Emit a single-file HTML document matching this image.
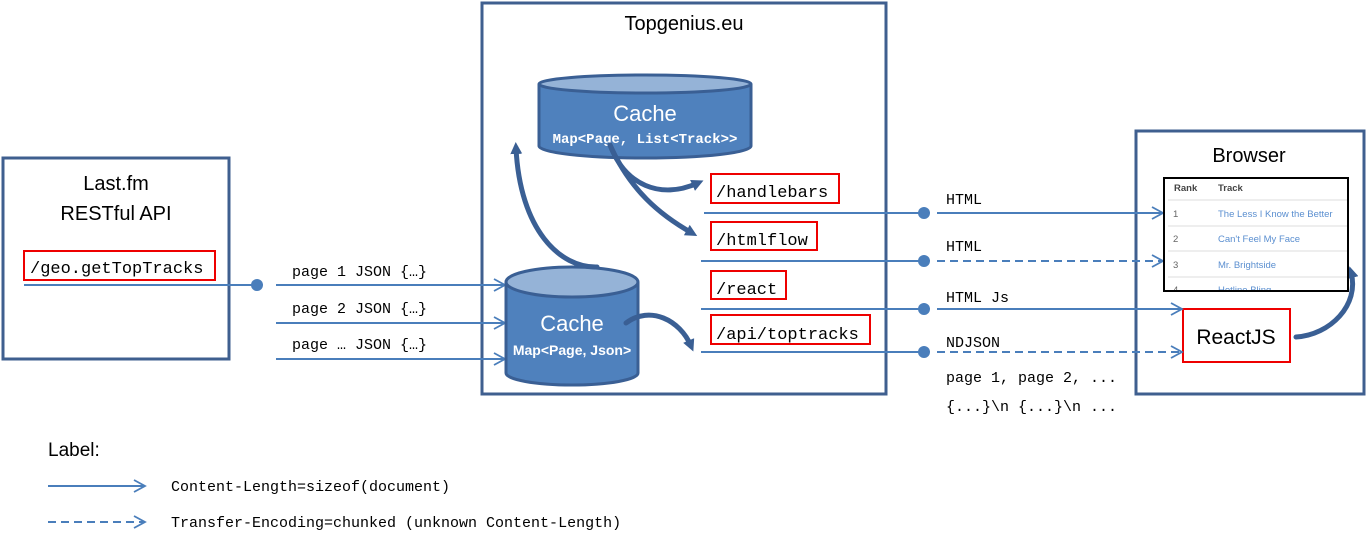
<!DOCTYPE html>
<html><head><meta charset="utf-8"><style>
html,body{margin:0;padding:0;background:#fff;width:1367px;height:545px;overflow:hidden}
svg{display:block}
.t{font-family:"Liberation Sans",sans-serif;fill:#000}
.m{font-family:"Liberation Mono",monospace;fill:#000}
</style></head><body>
<svg width="1367" height="545" viewBox="0 0 1367 545" xmlns="http://www.w3.org/2000/svg">
<defs>
<marker id="oa" markerWidth="14" markerHeight="14" refX="12" refY="7" orient="auto" markerUnits="userSpaceOnUse"><path d="M1,1 L12,7 L1,13" fill="none" stroke="#4a7ebb" stroke-width="1.8"/></marker>
<marker id="fa" markerWidth="12" markerHeight="12" refX="6" refY="6" orient="auto" markerUnits="userSpaceOnUse"><path d="M0,0 L12,6 L0,12 Z" fill="#3a5f94"/></marker>
<clipPath id="tc"><rect x="1164" y="178" width="184" height="113"/></clipPath>
</defs>
<rect x="3" y="158" width="226" height="201" fill="none" stroke="#3f5f8f" stroke-width="3"/>
<rect x="482" y="3" width="404" height="391" fill="none" stroke="#3f5f8f" stroke-width="3"/>
<rect x="1136" y="131" width="228" height="263" fill="none" stroke="#3f5f8f" stroke-width="3"/>
<text class="t" x="116" y="190" font-size="20" text-anchor="middle">Last.fm</text>
<text class="t" x="116" y="220" font-size="20" text-anchor="middle">RESTful API</text>
<text class="t" x="684" y="30" font-size="20" text-anchor="middle">Topgenius.eu</text>
<text class="t" x="1249" y="162" font-size="20" text-anchor="middle">Browser</text>
<g fill="#fff" stroke="#e00" stroke-width="2">
<rect x="24" y="251" width="191" height="29"/>
<rect x="711" y="174" width="128" height="29"/>
<rect x="711" y="222" width="106" height="28"/>
<rect x="711" y="271" width="75" height="28"/>
<rect x="711" y="315" width="159" height="29"/>
<rect x="1183" y="309" width="107" height="53"/>
</g>
<g class="m" font-size="17">
<text x="30" y="273">/geo.getTopTracks</text>
<text x="716" y="197">/handlebars</text>
<text x="716" y="245">/htmlflow</text>
<text x="716" y="294">/react</text>
<text x="716" y="339">/api/toptracks</text>
</g>
<text class="t" x="1236" y="344" font-size="21" text-anchor="middle">ReactJS</text>
<g stroke="#4a7ebb" stroke-width="2" fill="none">
<line x1="24" y1="285" x2="257" y2="285"/>
<line x1="276" y1="285" x2="505" y2="285" marker-end="url(#oa)"/>
<line x1="276" y1="323" x2="505" y2="323" marker-end="url(#oa)"/>
<line x1="276" y1="359" x2="505" y2="359" marker-end="url(#oa)"/>
<line x1="704" y1="213" x2="923" y2="213"/>
<line x1="937" y1="213" x2="1163" y2="213" marker-end="url(#oa)"/>
<line x1="701" y1="261" x2="923" y2="261"/>
<line x1="937" y1="261" x2="1163" y2="261" stroke-dasharray="8,5" marker-end="url(#oa)"/>
<line x1="701" y1="309" x2="923" y2="309"/>
<line x1="937" y1="309" x2="1182" y2="309" marker-end="url(#oa)"/>
<line x1="701" y1="352" x2="923" y2="352"/>
<line x1="937" y1="352" x2="1182" y2="352" stroke-dasharray="8,5" marker-end="url(#oa)"/>
<line x1="48" y1="486" x2="145" y2="486" marker-end="url(#oa)"/>
<line x1="48" y1="522" x2="145" y2="522" stroke-dasharray="8,5" marker-end="url(#oa)"/>
</g>
<g fill="#4a7ebb"><circle cx="257" cy="285" r="6"/><circle cx="924" cy="213" r="6"/><circle cx="924" cy="261" r="6"/><circle cx="924" cy="309" r="6"/><circle cx="924" cy="352" r="6"/></g>
<g class="m" font-size="15">
<text x="292" y="276">page 1 JSON {…}</text>
<text x="292" y="313">page 2 JSON {…}</text>
<text x="292" y="349">page … JSON {…}</text>
<text x="946" y="204">HTML</text>
<text x="946" y="251">HTML</text>
<text x="946" y="302">HTML Js</text>
<text x="946" y="347">NDJSON</text>
<text x="946" y="382">page 1, page 2, ...</text>
<text x="946" y="411">{...}\n {...}\n ...</text>
<text x="171" y="491">Content-Length=sizeof(document)</text>
<text x="171" y="527">Transfer-Encoding=chunked  (unknown Content-Length)</text>
</g>
<text class="t" x="48" y="456" font-size="19">Label:</text>
<g stroke="#3a5f94" stroke-width="3">
<path d="M539,84 L539,146 A106,12 0 0 0 751,146 L751,84" fill="#4f81bd"/>
<ellipse cx="645" cy="84" rx="106" ry="9" fill="#95b3d7"/>
<path d="M506,282 L506,373 A66,12 0 0 0 638,373 L638,282" fill="#4f81bd"/>
<ellipse cx="572" cy="282" rx="66" ry="15" fill="#95b3d7"/>
</g>
<text class="t" x="645" y="121" font-size="22" text-anchor="middle" style="fill:#fff">Cache</text>
<text class="m" x="645" y="143" font-size="14" font-weight="bold" text-anchor="middle" style="fill:#fff">Map&lt;Page, List&lt;Track&gt;&gt;</text>
<text class="t" x="572" y="331" font-size="22" text-anchor="middle" style="fill:#fff">Cache</text>
<text class="t" x="572" y="355" font-size="14" font-weight="bold" text-anchor="middle" style="fill:#fff">Map&lt;Page, Json&gt;</text>
<g stroke="#3a5f94" stroke-width="5" fill="none" stroke-linecap="round">
<path d="M597,267 C560,268 520,230 516,148" marker-end="url(#fa)"/>
<path d="M610,145 C625,185 660,200 698,183" marker-end="url(#fa)"/>
<path d="M610,145 C630,190 660,215 692,233" marker-end="url(#fa)"/>
<path d="M626,323 C650,305 680,320 691,346" marker-end="url(#fa)"/>
<path d="M1296,337 C1330,335 1360,305 1351,272" marker-end="url(#fa)"/>
</g>
<rect x="1164" y="178" width="184" height="113" fill="#fff" stroke="#000" stroke-width="2"/>
<g font-family="Liberation Sans,sans-serif" font-size="9.5" clip-path="url(#tc)">
<text x="1174" y="191" fill="#444" font-weight="bold">Rank</text><text x="1218" y="191" fill="#444" font-weight="bold">Track</text>
<g stroke="#ddd" stroke-width="1"><line x1="1168" y1="200" x2="1347" y2="200"/><line x1="1168" y1="226" x2="1347" y2="226"/><line x1="1168" y1="251" x2="1347" y2="251"/><line x1="1168" y1="277" x2="1347" y2="277"/></g>
<text x="1173" y="217" fill="#666">1</text><text x="1218" y="217" fill="#5b8fd0">The Less I Know the Better</text>
<text x="1173" y="242" fill="#666">2</text><text x="1218" y="242" fill="#5b8fd0">Can't Feel My Face</text>
<text x="1173" y="268" fill="#666">3</text><text x="1218" y="268" fill="#5b8fd0">Mr. Brightside</text>
<text x="1173" y="293" fill="#666">4</text><text x="1218" y="293" fill="#5b8fd0">Hotline Bling</text>
</g>
<rect x="1164" y="178" width="184" height="113" fill="none" stroke="#000" stroke-width="2"/>
</svg>
</body></html>
